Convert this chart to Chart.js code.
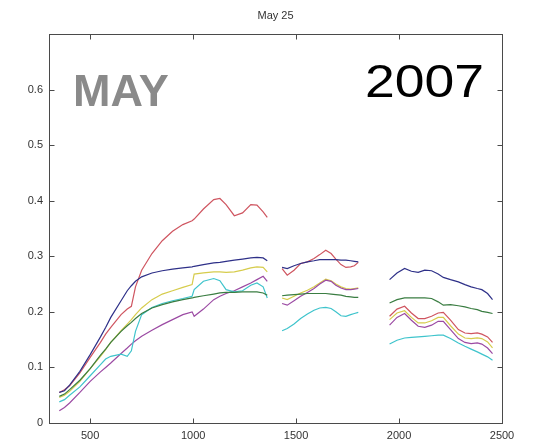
<!DOCTYPE html>
<html>
<head>
<meta charset="utf-8">
<script src="https://cdn.jsdelivr.net/npm/chart.js@4.4.0/dist/chart.umd.min.js"></script>
<style>
  html, body { margin: 0; padding: 0; background: #fff; }
  #wrap { width: 535px; height: 448px; }
</style>
</head>
<body>
<div id="wrap"><canvas id="c" width="535" height="448"></canvas></div>
<script>
// Reflectance spectra, May 25 field day. Wavelength in nm; null = water band gap.
var WAVELENGTHS = [
  350, 375, 400, 450, 500, 550, 575, 600, 650, 680, 700, 720, 750, 800, 850, 900, 950, 995, 1005,
  1050, 1100, 1130, 1160, 1200, 1240, 1280, 1310, 1340, 1360,
  1395,
  1432, 1457, 1490, 1522, 1555, 1587, 1615, 1644, 1670, 1693, 1718, 1742, 1765, 1783, 1802,
  1880,
  1954, 1990, 2027, 2060, 2093, 2125, 2158, 2190, 2215, 2250, 2288, 2320, 2350, 2380, 2402, 2430, 2454
];

var BLUE = [
  0.055, 0.058, 0.068, 0.093, 0.123, 0.155, 0.172, 0.190, 0.220, 0.238, 0.247, 0.255, 0.263, 0.270, 0.274, 0.277, 0.279, 0.281, 0.282,
  0.285, 0.288, 0.289, 0.291, 0.293, 0.295, 0.297, 0.298, 0.297, 0.292,
  null,
  0.280, 0.278, 0.283, 0.287, 0.290, 0.292, 0.294, 0.294, 0.294, 0.294, 0.293, 0.293, 0.292, 0.291, 0.290,
  null,
  0.258, 0.270, 0.278, 0.273, 0.271, 0.275, 0.274, 0.268, 0.262, 0.258, 0.254, 0.249, 0.245, 0.242, 0.240, 0.233, 0.222
];

var GREEN = [
  0.048, 0.052, 0.060, 0.077, 0.098, 0.122, 0.133, 0.145, 0.165, 0.175, 0.181, 0.188, 0.197, 0.207, 0.213, 0.218, 0.222, 0.225, 0.226,
  0.229, 0.232, 0.234, 0.235, 0.235, 0.236, 0.236, 0.236, 0.234, 0.230,
  null,
  0.229, 0.230, 0.231, 0.232, 0.233, 0.233, 0.233, 0.233, 0.232, 0.231, 0.230, 0.228, 0.227, 0.226, 0.226,
  null,
  0.216, 0.222, 0.225, 0.225, 0.225, 0.225, 0.224, 0.218, 0.212, 0.213, 0.211, 0.209, 0.206, 0.204, 0.201, 0.199, 0.197
];

var RED = [
  0.055, 0.060, 0.067, 0.090, 0.118, 0.145, 0.160, 0.172, 0.195, 0.205, 0.210, 0.245, 0.275, 0.305, 0.328, 0.345, 0.357, 0.364, 0.367,
  0.385, 0.402, 0.404, 0.393, 0.373, 0.378, 0.393, 0.392, 0.380, 0.370,
  null,
  0.278, 0.266, 0.275, 0.287, 0.290, 0.296, 0.303, 0.311, 0.305, 0.295, 0.285, 0.280, 0.281, 0.283, 0.289,
  null,
  0.192, 0.205, 0.210, 0.198, 0.188, 0.188, 0.192, 0.198, 0.199, 0.185, 0.168, 0.162, 0.161, 0.162, 0.160, 0.155, 0.145
];

var CYAN = [
  0.038, 0.042, 0.050, 0.065, 0.085, 0.105, 0.115, 0.120, 0.124, 0.120, 0.130, 0.165, 0.195, 0.208, 0.215, 0.220, 0.224, 0.228, 0.240,
  0.255, 0.260, 0.256, 0.240, 0.236, 0.238, 0.248, 0.252, 0.245, 0.225,
  null,
  0.166, 0.170, 0.178, 0.188, 0.196, 0.203, 0.207, 0.208, 0.206, 0.200, 0.193, 0.192, 0.195, 0.197, 0.199,
  null,
  0.142, 0.149, 0.153, 0.154, 0.155, 0.156, 0.157, 0.158, 0.158, 0.152, 0.144, 0.138, 0.133, 0.128, 0.124, 0.119, 0.113
];

var MAGENTA = [
  0.022, 0.028, 0.036, 0.055, 0.075, 0.092, 0.100, 0.108, 0.125, 0.135, 0.142, 0.148, 0.156, 0.167, 0.177, 0.186, 0.195, 0.200, 0.192,
  0.205, 0.222, 0.228, 0.233, 0.238, 0.245, 0.252, 0.258, 0.264, 0.255,
  null,
  0.215, 0.212, 0.220, 0.228, 0.235, 0.242, 0.250, 0.257, 0.255, 0.248, 0.243, 0.240, 0.240, 0.241, 0.242,
  null,
  0.176, 0.190, 0.197, 0.185, 0.174, 0.172, 0.176, 0.183, 0.183, 0.168, 0.152, 0.145, 0.143, 0.144, 0.142, 0.135, 0.125
];

var YELLOW = [
  0.046, 0.050, 0.057, 0.075, 0.098, 0.120, 0.132, 0.145, 0.166, 0.178, 0.186, 0.195, 0.207, 0.222, 0.232, 0.238, 0.244, 0.249, 0.268,
  0.270, 0.272, 0.272, 0.271, 0.272, 0.275, 0.279, 0.281, 0.280, 0.272,
  null,
  0.225, 0.222, 0.228, 0.234, 0.239, 0.245, 0.252, 0.259, 0.256, 0.250, 0.245, 0.242, 0.241, 0.242, 0.243,
  null,
  0.186, 0.198, 0.202, 0.190, 0.180, 0.180, 0.184, 0.190, 0.190, 0.175, 0.160, 0.153, 0.152, 0.153, 0.152, 0.146, 0.135
];

var X_TICKS = [500, 1000, 1500, 2000, 2500];
var Y_TICKS = [0, 0.1, 0.2, 0.3, 0.4, 0.5, 0.6];
var Y_TICK_LABELS = ["0", "0.1", "0.2", "0.3", "0.4", "0.5", "0.6"];

var SERIES = [
  { name: "b", values: BLUE,    color: "#2e3088" },
  { name: "g", values: GREEN,   color: "#3a7d42" },
  { name: "r", values: RED,     color: "#cf5560" },
  { name: "c", values: CYAN,    color: "#3fc4cc" },
  { name: "m", values: MAGENTA, color: "#9b4aa3" },
  { name: "y", values: YELLOW,  color: "#d6cc4c" }
];

function toPoints(values) {
  return WAVELENGTHS.map(function (w, i) { return { x: w, y: values[i] }; });
}

// MATLAB-style box with inward ticks on all four sides, plus title and overlay text
var frame = {
  id: "frame",
  afterDraw: function (chart) {
    var ctx = chart.ctx, a = chart.chartArea;
    var xs = chart.scales.x, ys = chart.scales.y;
    var L = Math.round(a.left) + 0.5, R = Math.round(a.right) + 0.5;
    var T = Math.round(a.top) + 0.5, B = Math.round(a.bottom) + 0.5;
    ctx.save();
    ctx.strokeStyle = "#4a4a4a";
    ctx.lineWidth = 1;
    ctx.strokeRect(L, T, R - L, B - T);
    ctx.beginPath();
    X_TICKS.forEach(function (v) {
      var px = Math.round(xs.getPixelForValue(v)) + 0.5;
      ctx.moveTo(px, B); ctx.lineTo(px, B - 5);
      ctx.moveTo(px, T); ctx.lineTo(px, T + 5);
    });
    Y_TICKS.forEach(function (v) {
      var py = Math.round(ys.getPixelForValue(v)) + 0.5;
      ctx.moveTo(L, py); ctx.lineTo(L + 5, py);
      ctx.moveTo(R, py); ctx.lineTo(R - 5, py);
    });
    ctx.stroke();

    ctx.fillStyle = "#333";
    ctx.font = "11px 'Liberation Sans', Arial, sans-serif";
    ctx.textAlign = "center";
    ctx.textBaseline = "middle";
    ctx.fillText("May 25", (a.left + a.right) / 2, 16);

    ctx.textAlign = "left";
    ctx.textBaseline = "alphabetic";
    ctx.fillStyle = "#8a8a8a";
    ctx.font = "bold 45px 'Liberation Sans', Arial, sans-serif";
    ctx.fillText("MAY", a.left + 24, 106);

    ctx.fillStyle = "#000";
    ctx.font = "46px 'Liberation Sans', Arial, sans-serif";
    var w = ctx.measureText("2007").width;
    ctx.translate(a.left + 316, 97);
    ctx.scale(119 / w, 1);
    ctx.fillText("2007", 0, 0);
    ctx.restore();
  }
};

new Chart(document.getElementById("c").getContext("2d"), {
  type: "line",
  data: {
    datasets: SERIES.map(function (s) {
      return {
        label: s.name,
        data: toPoints(s.values),
        borderColor: s.color,
        backgroundColor: s.color,
        borderWidth: 1.2,
        pointRadius: 0,
        tension: 0,
        spanGaps: false
      };
    })
  },
  options: {
    responsive: false,
    animation: false,
    events: [],
    layout: { padding: { top: 34, right: 33, left: 0, bottom: 0 } },
    plugins: { legend: { display: false }, tooltip: { enabled: false }, title: { display: false } },
    scales: {
      x: {
        type: "linear",
        min: 300,
        max: 2500,
        grid: { display: false, drawTicks: false },
        border: { display: false },
        afterBuildTicks: function (s) { s.ticks = X_TICKS.map(function (v) { return { value: v }; }); },
        afterFit: function (s) { s.height = 25; },
        ticks: {
          padding: 6,
          color: "#333",
          maxRotation: 0,
          font: { family: "'Liberation Sans', Arial, sans-serif", size: 11 },
          callback: function (v) { return String(v); }
        }
      },
      y: {
        min: 0,
        max: 0.7,
        grid: { display: false, drawTicks: false },
        border: { display: false },
        afterBuildTicks: function (s) { s.ticks = Y_TICKS.map(function (v) { return { value: v }; }); },
        afterFit: function (s) { s.width = 49; },
        ticks: {
          padding: 6,
          color: "#333",
          font: { family: "'Liberation Sans', Arial, sans-serif", size: 11 },
          callback: function (v) {
            var i = Y_TICKS.findIndex(function (t) { return Math.abs(t - v) < 1e-9; });
            return i >= 0 ? Y_TICK_LABELS[i] : "";
          }
        }
      }
    }
  },
  plugins: [frame]
});
</script>
</body>
</html>
